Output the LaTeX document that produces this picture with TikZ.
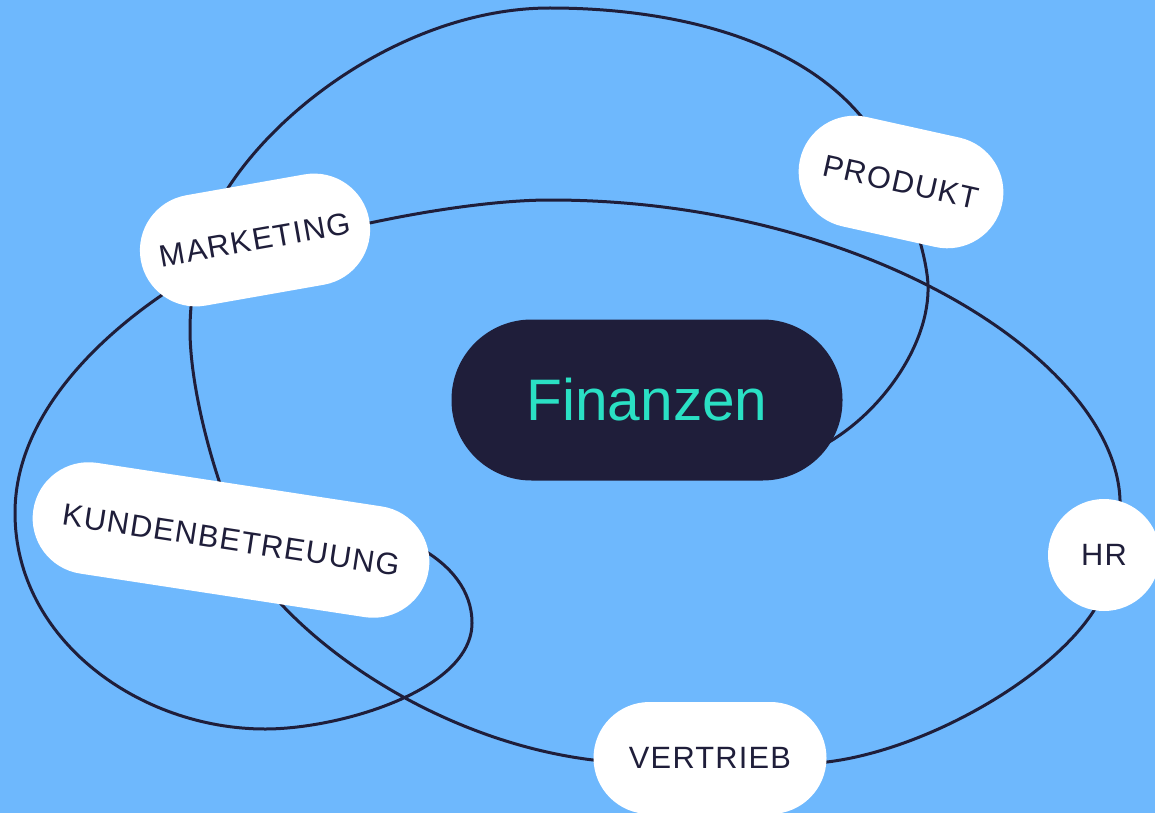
\documentclass[tikz,border=0pt]{standalone}
\usepackage{fontspec}
\setmainfont{Liberation Sans}
\newfontfamily\tagfont[LetterSpace=4]{Liberation Sans}
\usetikzlibrary{shapes.misc}

\definecolor{skyblue}{RGB}{110,184,253}
\definecolor{inkblue}{RGB}{31,30,58}
\definecolor{mint}{RGB}{42,224,196}

\begin{document}
\begin{tikzpicture}[x=0.5pt, y=-0.5pt,
    pill/.style={rectangle, rounded corners=28pt, fill=white, text=inkblue,
        inner sep=0pt, minimum height=56pt, font=\tagfont\fontsize{15.4}{18}\selectfont},
    hub/.style={rectangle, rounded corners=40pt, fill=inkblue, text=mint,
        inner sep=0pt, minimum width=195.5pt, minimum height=80.5pt,
        font=\fontsize{29.3}{35}\selectfont}]

% background
\fill[skyblue] (0,0) rectangle (1155,813);
\useasboundingbox (0,0) rectangle (1155,813);

% the one long loop (pills are drawn on top of it)
\draw[inkblue, line width=1.5pt] (822,446)
    .. controls (880,415) and (930,345) .. (928,285)   % up to Produkt
    .. controls (926,240) and (890,150) .. (860,115)
    .. controls (790,33) and (660,8) .. (550,8)        % top arc
    .. controls (420,8) and (290,95) .. (230,185)      % into Marketing
    .. controls (200,230) and (190,290) .. (190,330)
    .. controls (190,410) and (235,555) .. (282,605)   % through Kundenbetreuung
    .. controls (352,679) and (470,745) .. (593,760)   % into Vertrieb
    .. controls (673,770) and (757,771) .. (827,762)
    .. controls (925,750) and (1048,680) .. (1093,612) % up to HR
    .. controls (1123,567) and (1122,530) .. (1120,500)
    .. controls (1115,360) and (863,200) .. (550,200)  % back over the top
    .. controls (440,200) and (232,247) .. (162,295)   % through Marketing
    .. controls (92,343) and (15,420) .. (15,513)      % left side
    .. controls (15,640) and (140,729) .. (265,729)
    .. controls (340,729) and (472,690) .. (472,623)   % small loop
    .. controls (472,590) and (450,565) .. (420,548);

% centre
\node[hub] (fin) at (647,400) {Finanzen};

% teams
\node[pill, minimum width=116pt, rotate=10] (mkt) at (255,240) {MARKETING};
\node[pill, minimum width=103.5pt, rotate=-12.5] (prd) at (901,182) {PRODUKT};
\node[pill, minimum width=200pt, rotate=-8.7] (kdb) at (231,540) {KUNDENBETREUUNG};
\node[pill, minimum width=116.5pt] (vtb) at (710,758) {VERTRIEB};
\node[pill, circle, minimum size=56pt] (hr) at (1104,555) {HR};

\end{tikzpicture}
\end{document}
